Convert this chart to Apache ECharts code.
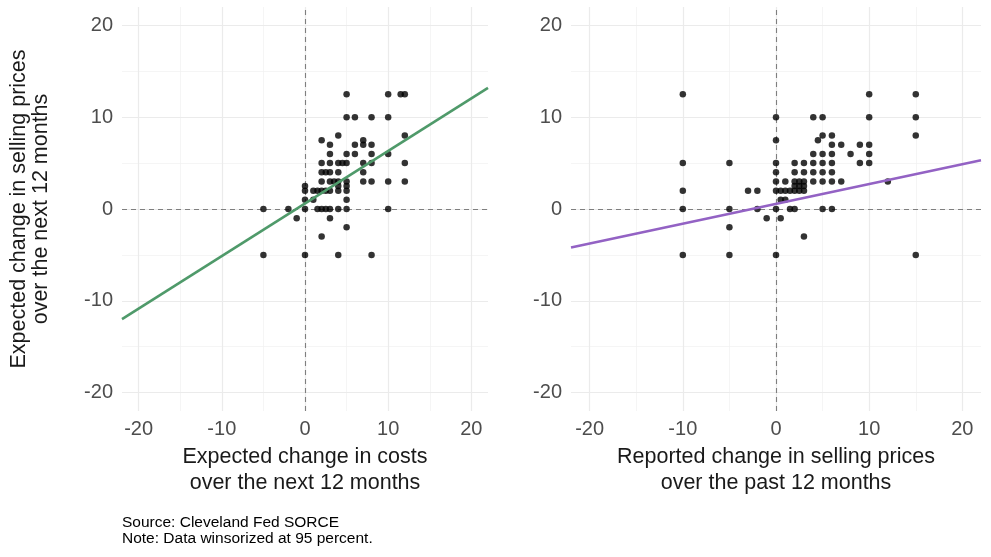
<!DOCTYPE html>
<html>
<head>
<meta charset="utf-8">
<script src="https://cdn.jsdelivr.net/npm/echarts@6/dist/echarts.min.js"></script>
<style>
html,body{margin:0;padding:0;background:#fff;}
#chart{width:991px;height:557px;}
</style>
</head>
<body>
<div id="chart"></div>
<script>
// ---- Data ----
// Left panel: expected change in costs (x) vs expected change in selling prices (y)
var costsX = [5,10,11.5,12, 5,6,8,10, 4,12, 2,7, 3,6,7,8, 3,5,6,8,10,
  2,3,4,4.5,5,7,8,12, 2,2.5,3,4,7, 2,3,3.5,4,5,7,8,10,12, 0,4,5,
  0,1,1.5,2,2.5,3,4,5, 0,1,5, -5,-2,0,1.5,2,2.5,3,4,5,10, -1,3, 5, 2, -5,0,4,8];
var pricesNextLeftY = [12.5,12.5,12.5,12.5, 10,10,10,10, 8,8, 7.5,7.5, 7,7,7,7, 6,6,6,6,6,
  5,5,5,5,5,5,5,5, 4,4,4,4,4, 3,3,3,3,3,3,3,3,3, 2.5,2.5,2.5,
  2,2,2,2,2,2,2,2, 1,1,1, 0,0,0,0,0,0,0,0,0,0, -1,-1, -2, -3, -5,-5,-5,-5];

// Right panel: reported change in selling prices over past 12 months (x) vs expected (y)
var pastPricesX = [-10,10,15, 0,4,5,10,15, 5,6,15, 0,4.5, 6,7,9,10, 4,5,6,8,10,
  -10,-5,0,2,3,4,5,6,9,10, 0,2,3,4,5,6, 0,1,2,2.5,3,4,5,6,7,12,
  2,2.5,3, -10,-3,-2,0,0.5,1,1.5,2,2.5,3, 0.5,1,
  -10,-5,-2,0,1.5,2,5,6, -1,0.5, -5, 3, -10,-5,0,15];
var pricesNextRightY = [12.5,12.5,12.5, 10,10,10,10,10, 8,8,8, 7.5,7.5, 7,7,7,7, 6,6,6,6,6,
  5,5,5,5,5,5,5,5,5,5, 4,4,4,4,4,4, 3,3,3,3,3,3,3,3,3,3,
  2.5,2.5,2.5, 2,2,2,2,2,2,2,2,2,2, 1,1,
  0,0,0,0,0,0,0,0, -1,-1, -2, -3, -5,-5,-5,-5];

// Fitted lines (endpoints read at the panel edges)
var fitX = [-22, 22];
var fitLeftY = [-12.0, 13.2];
var fitRightY = [-4.2, 5.3];

// Axes
var axisMin = -22, axisMax = 22;
var tickValues = [-20, -10, 0, 10, 20];
var minorValues = [-15, -5, 5, 15];

var leftXTitle = 'Expected change in costs\nover the next 12 months';
var rightXTitle = 'Reported change in selling prices\nover the past 12 months';
var yTitle = 'Expected change in selling prices\nover the next 12 months';
var caption = 'Source: Cleveland Fed SORCE\nNote: Data winsorized at 95 percent.';

// ---- Build ----
function pairs(xs, ys){ return xs.map(function(x,i){ return [x, ys[i]]; }); }

var FONT = '"Liberation Sans", Arial, sans-serif';
var majorStyle = {color:'#ebebeb', width:1.2, type:'solid'};
var minorStyle = {color:'#f0f0f0', width:0.7, type:'solid'};
var zeroStyle = {color:'#7f7f7f', width:1.1, type:[5,4]};

function gridLines(){
  var d = [];
  minorValues.forEach(function(v){
    d.push({xAxis:v, lineStyle:minorStyle});
    d.push({yAxis:v, lineStyle:minorStyle});
  });
  tickValues.forEach(function(v){
    d.push({xAxis:v, lineStyle:majorStyle});
    d.push({yAxis:v, lineStyle:majorStyle});
  });
  return d;
}

function xAxisCfg(idx, title){
  return {
    type:'value', gridIndex:idx, min:axisMin, max:axisMax,
    splitLine:{show:false}, axisLine:{show:false}, axisTick:{show:false},
    axisLabel:{customValues:tickValues, fontSize:20, color:'#4d4d4d', fontFamily:FONT, margin:8},
    name:title, nameLocation:'middle', nameGap:23,
    nameTextStyle:{fontSize:21.5, color:'#1a1a1a', fontFamily:FONT, lineHeight:26}
  };
}
function yAxisCfg(idx, title){
  var c = {
    type:'value', gridIndex:idx, min:axisMin, max:axisMax,
    splitLine:{show:false}, axisLine:{show:false}, axisTick:{show:false},
    axisLabel:{customValues:tickValues, fontSize:20, color:'#4d4d4d', fontFamily:FONT, margin:9}
  };
  if (title){
    c.name = title; c.nameLocation = 'middle'; c.nameGap = 70; c.nameRotate = 90;
    c.nameTextStyle = {fontSize:21.5, color:'#1a1a1a', fontFamily:FONT, lineHeight:22};
  }
  return c;
}

function panelSeries(idx, pts, fitY, fitColor){
  return [
    {type:'line', xAxisIndex:idx, yAxisIndex:idx, data:[], silent:true, z:0,
      markLine:{symbol:['none','none'], silent:true, animation:false, label:{show:false}, z:0,
        data:gridLines()}},
    {type:'line', xAxisIndex:idx, yAxisIndex:idx, data:[], silent:true, z:1,
      markLine:{symbol:['none','none'], silent:true, animation:false, label:{show:false}, z:1,
        data:[{xAxis:0, lineStyle:zeroStyle},{yAxis:0, lineStyle:zeroStyle}]}},
    {type:'scatter', xAxisIndex:idx, yAxisIndex:idx, data:pts, symbolSize:6.5,
      itemStyle:{color:'#000'}, z:3, animation:false},
    {type:'line', xAxisIndex:idx, yAxisIndex:idx, data:pairs(fitX, fitY), showSymbol:false,
      symbol:'none', lineStyle:{color:fitColor, width:2.6}, z:4, animation:false}
  ];
}

var chart = echarts.init(document.getElementById('chart'), null, {renderer:'canvas'});
chart.setOption({
  backgroundColor:'#ffffff',
  animation:false,
  grid:[
    {left:122, top:7, width:366, height:404},
    {left:571, top:7, width:410, height:404}
  ],
  xAxis:[xAxisCfg(0, leftXTitle), xAxisCfg(1, rightXTitle)],
  yAxis:[yAxisCfg(0, yTitle), yAxisCfg(1, null)],
  series: panelSeries(0, pairs(costsX, pricesNextLeftY), fitLeftY, '#4f9a6a')
    .concat(panelSeries(1, pairs(pastPricesX, pricesNextRightY), fitRightY, '#9362c4')),
  graphic:[{
    type:'text', left:122, top:515,
    style:{text:caption, font:'15.5px "Liberation Sans", Arial, sans-serif', fill:'#000', lineHeight:16}
  }]
});
</script>
</body>
</html>
